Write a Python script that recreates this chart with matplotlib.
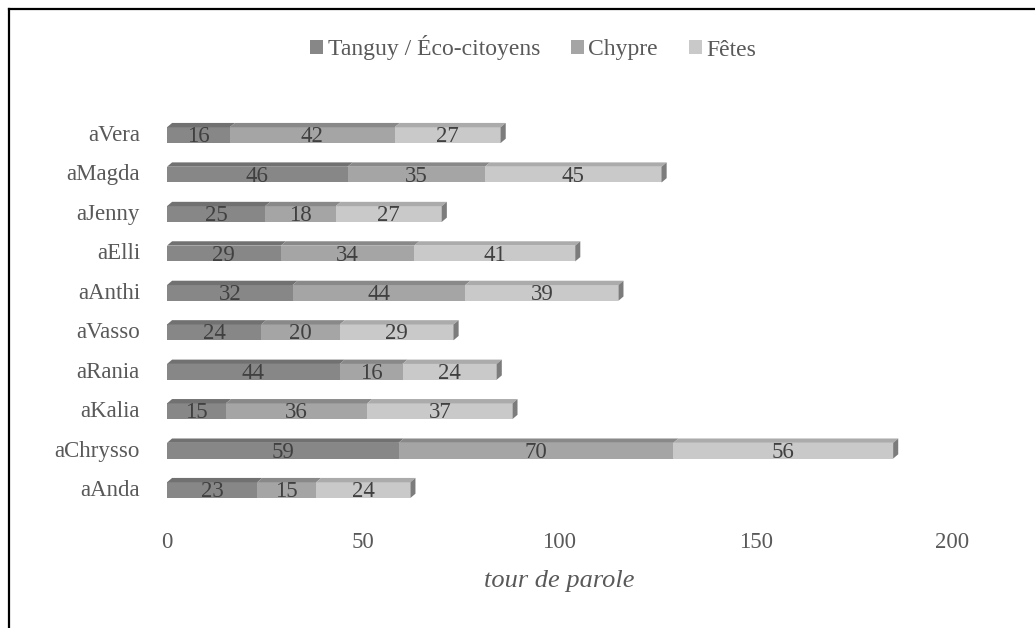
import numpy as np
import matplotlib.pyplot as plt
from matplotlib.patches import Polygon
from matplotlib.lines import Line2D

plt.rcParams['font.family'] = ['Liberation Serif', 'DejaVu Serif']

categories = ['aAnda', 'aChrysso', 'aKalia', 'aRania', 'aVasso',
              'aAnthi', 'aElli', 'aJenny', 'aMagda', 'aVera']
tanguy = [23, 59, 15, 44, 24, 32, 29, 25, 46, 16]
chypre = [15, 70, 36, 16, 20, 44, 34, 18, 35, 42]
fetes = [24, 56, 37, 24, 29, 39, 41, 27, 45, 27]
series_names = ['Tanguy / Éco-citoyens', 'Chypre', 'Fêtes']

front = ['#878787', '#a5a5a5', '#c9c9c9']
top = ['#717171', '#898989', '#ababab']
side = '#7c7c7c'

fig = plt.figure(figsize=(10.35, 6.28), dpi=100)
W, H = 1035, 628
ax = fig.add_axes([167 / W, 1 - 510 / H, 785 / W, 400 / H])

y = np.arange(len(categories))
h = 0.40      # front face height
dx = 1.3      # depth offset (data x)
dy = 0.11     # depth offset (data y)
yc = y - dy / 2

left = np.zeros(len(categories))
for k, vals in enumerate([tanguy, chypre, fetes]):
    vals = np.array(vals)
    ax.barh(yc, vals, height=h, left=left, color=front[k], label=series_names[k],
            edgecolor='none', zorder=2)
    for i in range(len(categories)):
        x0, x1 = left[i], left[i] + vals[i]
        yt = yc[i] + h / 2
        ax.add_patch(Polygon([(x0, yt), (x1, yt), (x1 + dx, yt + dy), (x0 + dx, yt + dy)],
                             closed=True, facecolor=top[k], edgecolor='none', zorder=3))
        ax.text((x0 + x1) / 2, yc[i] - 0.04, str(vals[i]), ha='center', va='center',
                fontsize=16.5, color='#404040', zorder=5)
    left = left + vals

for i in range(len(categories)):
    x1 = left[i]
    yb, yt = yc[i] - h / 2, yc[i] + h / 2
    ax.add_patch(Polygon([(x1, yb), (x1 + dx, yb + dy), (x1 + dx, yt + dy), (x1, yt)],
                         closed=True, facecolor=side, edgecolor='none', zorder=3))

ax.set_xlim(0, 200)
ax.set_ylim(-0.558, 9.583)
ax.set_xticks([0, 50, 100, 150, 200])
ax.set_yticks(y)
ax.set_yticklabels(categories)
ax.tick_params(axis='both', length=0, labelsize=16.5, colors='#595959')
ax.tick_params(axis='y', pad=19.5)
ax.tick_params(axis='x', pad=16)
for s in ax.spines.values():
    s.set_visible(False)
ax.set_xlabel('tour de parole', fontsize=19, style='italic', color='#595959', labelpad=12)

handles, labels = ax.get_legend_handles_labels()
fig.legend(handles, labels, loc='center', bbox_to_anchor=(0.515, 1 - 48 / H), ncol=3,
           frameon=False, fontsize=17, labelcolor='#595959', handlelength=0.55,
           handleheight=0.55, handletextpad=0.2, columnspacing=1.3)

fig.add_artist(Line2D([8.5 / W, 8.5 / W], [0, 1 - 8.5 / H], color='black', lw=1.6))
fig.add_artist(Line2D([8.5 / W, 1], [1 - 8.5 / H, 1 - 8.5 / H], color='black', lw=1.6))

fig.savefig('out.png', dpi=100)
